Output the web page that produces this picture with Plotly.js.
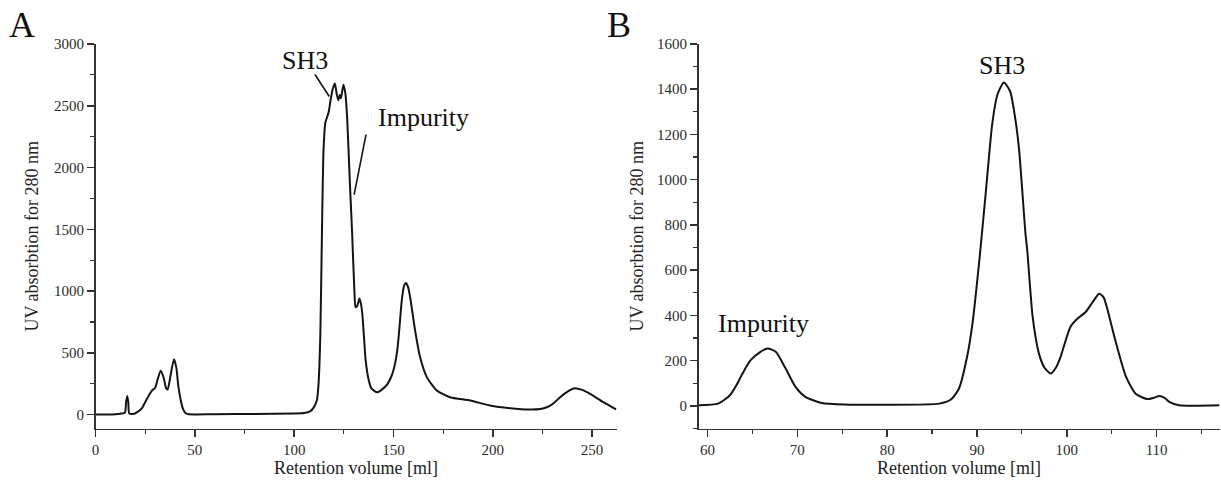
<!DOCTYPE html>
<html>
<head>
<meta charset="utf-8">
<script src="https://cdn.plot.ly/plotly-3.0.1.min.js"></script>
<style>html,body{margin:0;padding:0;background:#fff}#chart{width:1221px;height:493px}</style>
</head>
<body>
<div id="chart"></div>
<script>
// Panel A: full chromatogram
const volA = [0,5,10,13,14.8,15.4,16,16.5,17,19,21,23.3,25,26.7,28.5,30,31.2,32.8,34.3,35.5,36.3,37.5,39.5,40.7,41.7,43,44.2,45.5,47,60,80,100,105,108,110,111.5,112.3,113.2,114,114.8,115.7,117.4,118.5,119.5,120.5,121.5,122.3,123,123.6,124.8,125.8,126.7,128,129.2,130.4,130.9,131.8,132.9,133.6,134.3,135.2,136,137.6,139,141.8,144,146.9,149,150.5,152,153,154.2,155.3,156.3,157.3,158.4,160.9,163.4,166.8,171.8,178.5,188.6,198.6,208.7,218.8,224,227.2,230.5,233.9,238,241.4,245,249,255.7,262.1];
const absA = [0,0,2,8,15,100,150,100,10,5,20,50,100,150,195,215,280,355,300,215,202,290,448,380,230,110,40,10,2,3,5,8,12,25,60,120,250,655,1468,2140,2360,2450,2560,2640,2680,2590,2545,2590,2560,2670,2600,2400,1900,1468,980,870,880,940,900,820,620,440,275,210,180,200,245,310,390,530,700,925,1040,1065,1035,951,681,465,303,195,140,114,73,51,41,45,59,90,140,190,213,200,168,100,41];
// Panel B: purification run
const volB = [59,61.2,62.5,63.2,63.9,64.8,65.9,66.7,67.6,68.7,69.8,70.9,72.7,75.3,80,85.8,87.1,88,88.9,89.5,90.3,91,91.7,92.3,93,93.7,94.3,94.7,95.4,95.6,96.2,96.9,97.5,98.2,98.8,99.3,100.4,101.2,102.1,102.9,103.6,104.1,104.5,105.4,106.6,107.7,109,109.7,110.3,110.9,111.4,112.5,117];
const absB = [3,10,47,90,143,202,239,254,239,165,84,40,13,6,5,10,28,77,217,364,658,952,1247,1379,1430,1390,1260,1129,762,687,393,231,170,143,170,216,349,386,415,460,496,480,430,290,128,52,30,36,44,35,18,3,3];

const yTicksA = [0,500,1000,1500,2000,2500,3000];
const yTicksB = [0,200,400,600,800,1000,1200,1400,1600];
const xTicksA = [0,50,100,150,200,250];
const xTicksB = [60,70,80,90,100,110];
const labelPanels = ['A','B'];
const peakLabels = ['SH3','Impurity'];
const xTitle = 'Retention volume [ml]';
const yTitle = 'UV absorbtion for 280 nm';

const FONT = 'Liberation Serif, Times New Roman, serif';
const lineStyle = {color:'#141414', width:2, shape:'spline', smoothing:0.6};

const traces = [
  {x:volA, y:absA, type:'scatter', mode:'lines', line:lineStyle, xaxis:'x', yaxis:'y', hoverinfo:'skip'},
  {x:volB, y:absB, type:'scatter', mode:'lines', line:lineStyle, xaxis:'x2', yaxis:'y2', hoverinfo:'skip'}
];

function axisBase(){
  return {
    showline:true, linecolor:'#333', linewidth:1.5, mirror:false,
    showgrid:false, zeroline:false,
    ticks:'outside', ticklen:7, tickwidth:1.5, tickcolor:'#333',
    tickfont:{family:FONT, size:15, color:'#2a2a2a'},
    automargin:false, fixedrange:true
  };
}

const W = 1221, H = 493;
const yDom = [(H-428.5)/H, (H-44)/H];

const layout = {
  width:W, height:H,
  margin:{l:0,r:0,t:0,b:0},
  paper_bgcolor:'#fff', plot_bgcolor:'#fff',
  showlegend:false,
  xaxis: Object.assign(axisBase(), {
    domain:[95.5/W, 616.7/W], range:[0,262.4], anchor:'y',
    tickvals:xTicksA, minor:{ticks:'outside', ticklen:4, tickwidth:1.2, tickcolor:'#333', dtick:25, tick0:0},
    title:{text:xTitle, font:{family:FONT, size:18, color:'#222'}, standoff:4}
  }),
  yaxis: Object.assign(axisBase(), {
    domain:yDom, range:[-113,3000], anchor:'x',
    tickvals:yTicksA, minor:{ticks:'outside', ticklen:4, tickwidth:1.2, tickcolor:'#333', dtick:250, tick0:0},
    title:{text:yTitle, font:{family:FONT, size:18, color:'#222'}, standoff:10}
  }),
  xaxis2: Object.assign(axisBase(), {
    domain:[698.5/W, 1219.5/W], range:[59,117], anchor:'y2',
    tickvals:xTicksB, minor:{ticks:'outside', ticklen:4, tickwidth:1.2, tickcolor:'#333', dtick:5, tick0:0},
    title:{text:xTitle, font:{family:FONT, size:18, color:'#222'}, standoff:4}
  }),
  yaxis2: Object.assign(axisBase(), {
    domain:yDom, range:[-100,1600], anchor:'x2',
    tickvals:yTicksB, minor:{ticks:'outside', ticklen:4, tickwidth:1.2, tickcolor:'#333', dtick:100, tick0:0},
    title:{text:yTitle, font:{family:FONT, size:18, color:'#222'}, standoff:8}
  }),
  annotations:[
    {xref:'paper', yref:'paper', x:22/W, y:1-25/H, text:labelPanels[0], showarrow:false, xanchor:'center', yanchor:'middle', font:{family:FONT, size:36, color:'#111'}},
    {xref:'paper', yref:'paper', x:619/W, y:1-25/H, text:labelPanels[1], showarrow:false, xanchor:'center', yanchor:'middle', font:{family:FONT, size:36, color:'#111'}},
    {xref:'x', yref:'y', x:105.5, y:2867, text:peakLabels[0], showarrow:false, xanchor:'center', yanchor:'middle', font:{family:FONT, size:26, color:'#111'}},
    {xref:'x', yref:'y', x:164.9, y:2405, text:peakLabels[1], showarrow:false, xanchor:'center', yanchor:'middle', font:{family:FONT, size:26, color:'#111'}},
    {xref:'x2', yref:'y2', x:92.76, y:1504, text:peakLabels[0], showarrow:false, xanchor:'center', yanchor:'middle', font:{family:FONT, size:26, color:'#111'}},
    {xref:'x2', yref:'y2', x:66.26, y:365, text:peakLabels[1], showarrow:false, xanchor:'center', yanchor:'middle', font:{family:FONT, size:26, color:'#111'}}
  ],
  shapes:[
    {type:'line', xref:'x', yref:'y', x0:110.5, y0:2753, x1:117.7, y1:2575, line:{color:'#141414', width:1.6}},
    {type:'line', xref:'x', yref:'y', x0:136.2, y0:2267, x1:130.2, y1:1780, line:{color:'#141414', width:1.6}}
  ]
};

Plotly.newPlot('chart', traces, layout, {staticPlot:true, displayModeBar:false});
</script>
</body>
</html>
